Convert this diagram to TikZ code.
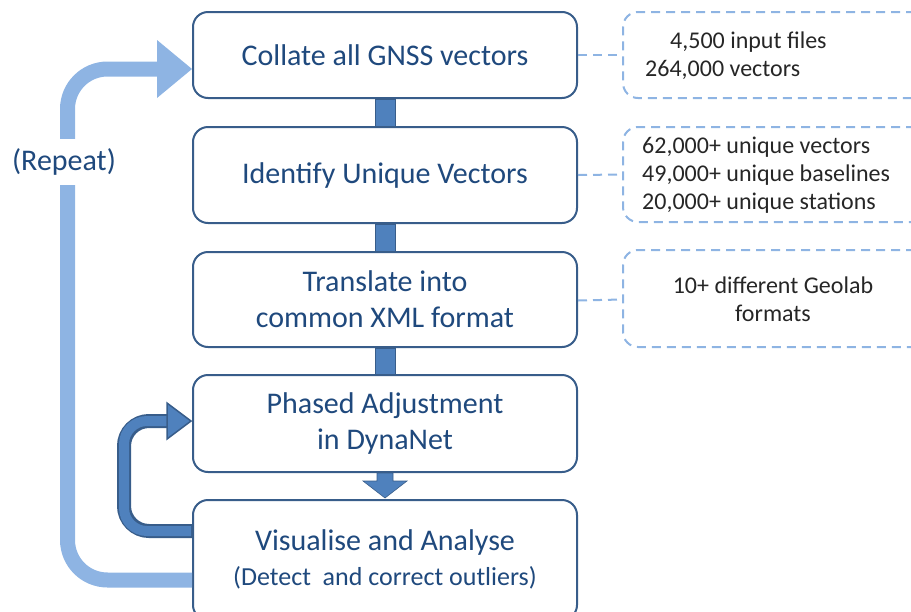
\documentclass[tikz,border=0pt]{standalone}
\usepackage{fontspec}
\setmainfont{Carlito}
\definecolor{boxedge}{HTML}{385D8A}
\definecolor{maintext}{HTML}{1F497D}
\definecolor{barfill}{HTML}{4F81BD}
\definecolor{lightarrow}{HTML}{8EB4E3}
\definecolor{dashblue}{HTML}{8EB4E3}
\begin{document}
\begin{tikzpicture}[x=1pt,y=-1pt,
  mainbox/.style={draw=boxedge, line width=2pt, rounded corners=15pt, fill=white,
    minimum width=384pt, inner sep=0pt, text=maintext,
    font=\fontsize{30}{36}\selectfont, align=center},
  callout/.style={draw=dashblue, line width=2pt, dash pattern=on 9pt off 6pt,
    rounded corners=15pt, minimum width=307pt, inner sep=0pt},
  calltext/.style={font=\fontsize{24}{28}\selectfont, text=black!85, inner sep=0pt},
  dashline/.style={draw=dashblue, line width=2pt, dash pattern=on 9pt off 6pt},
  bar/.style={fill=barfill, draw=boxedge, line width=0.6pt},
  repeatline/.style={draw=lightarrow, line width=15pt, rounded corners=40pt},
]
\useasboundingbox (0,0) rectangle (911,611);

% main boxes
\node[mainbox, minimum height=86pt] (b1) at (385,55) {Collate all GNSS vectors};
\node[mainbox, minimum height=96pt] (b2) at (385,175) {Identify Unique Vectors};
\node[mainbox, minimum height=95pt] (b3) at (385,299.5) {Translate into\\common XML format};
\node[mainbox, minimum height=97pt] (b4) at (385,423.5) {Phased Adjustment\\in DynaNet};
\node[mainbox, minimum height=120pt] (b5) at (385,560) {};
\node[text=maintext, font=\fontsize{30}{36}\selectfont, inner sep=0pt] (b5a) at (385,542) {Visualise and Analyse};
\node[text=maintext, font=\fontsize{26}{30}\selectfont, inner sep=0pt] (b5b) at (385,578) {(Detect\ \ and correct outliers)};

% bars between boxes
\draw[bar] ([xshift=-10pt]b1.south) rectangle ([xshift=10pt]b2.north);
\draw[bar] ([xshift=-10pt]b2.south) rectangle ([xshift=10pt]b3.north);
\draw[bar] ([xshift=-10pt]b3.south) rectangle ([xshift=10pt]b4.north);

% block arrow b4 -> b5
\draw[bar] ([xshift=-8pt]b4.south) -- ([xshift=-8pt,yshift=-8pt]b4.south)
  -- ([xshift=-22pt,yshift=-8pt]b4.south) -- ([yshift=1pt]b5.north)
  -- ([xshift=22pt,yshift=-8pt]b4.south) -- ([xshift=8pt,yshift=-8pt]b4.south)
  -- ([xshift=8pt]b4.south) -- cycle;

% repeat arrow (light blue)
\coordinate (r0) at (b5.west |- 0,580);
\coordinate (r1) at (b1.west |- 0,69);
\draw[repeatline] (r0) -- (67.5,580) -- (67.5,69) -- (158,69);
\fill[lightarrow] (157,40) -- (r1) -- (157,98) -- cycle;
\node[fill=white, text=maintext, font=\fontsize{30}{36}\selectfont, inner xsep=2pt, inner ysep=10pt] (rep) at (64,162) {(Repeat)};

% inner loop arrow (dark blue)
\coordinate (l0) at (b5.west |- 0,531);
\coordinate (l1) at (b4.west |- 0,421);
\draw[draw=boxedge, line width=14pt, rounded corners=25pt] (l0) -- (124,531) -- (124,421) -- (169,421);
\draw[draw=barfill, line width=10pt, rounded corners=23pt] ([xshift=-1pt]l0) -- (124,531) -- (124,421) -- (169,421);
\draw[fill=barfill, draw=boxedge, line width=1.5pt, line join=miter] (167,403) -- ([xshift=-1pt]l1) -- (167,439) -- cycle;

% callouts
\node[callout, minimum height=86pt] (c1) at (776.5,55) {};
\node[callout, minimum height=95pt] (c2) at (776.5,174.5) {};
\node[callout, minimum height=97pt] (c3) at (776.5,298.5) {};
\draw[dashline] (b1.east) -- (c1.west);
\draw[dashline] (b2.east) -- (c2.west);
\draw[dashline] ([yshift=-1pt]b3.east) -- ([yshift=-1pt]c3.west);

\node[calltext, anchor=west, align=left] (t1) at (645,56) {\hspace*{25pt}4,500 input files\\264,000 vectors};
\node[calltext, anchor=west, align=left] (t2) at (642,175) {62,000+ unique vectors\\49,000+ unique baselines\\20,000+ unique stations};
\node[calltext, align=center] (t3) at (773,299.5) {10+ different Geolab\\formats};
\end{tikzpicture}
\end{document}
